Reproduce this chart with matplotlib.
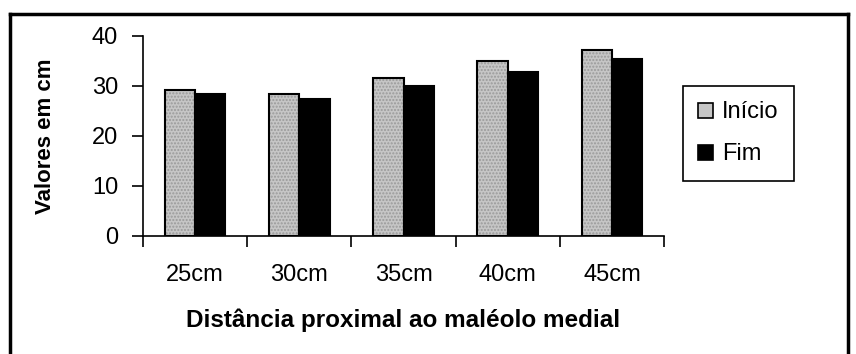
import matplotlib.pyplot as plt
import numpy as np
from matplotlib.patches import Rectangle
from matplotlib.lines import Line2D

plt.rcParams['font.family'] = ['Liberation Sans', 'DejaVu Sans']

categorias = ['25cm', '30cm', '35cm', '40cm', '45cm']
inicio = [29.3, 28.4, 31.7, 35.1, 37.2]
fim = [28.5, 27.5, 30.1, 32.8, 35.5]
y_ticks = [0, 10, 20, 30, 40]

fig = plt.figure(figsize=(8.56, 3.54), dpi=100)
ax = fig.add_axes([143/856, 1 - 236/354, (664 - 143)/856, 200/354])

x = np.arange(len(categorias))
w = 0.29
# Início: gray textured bars, drawn as fill + hatch, then outline
ax.bar(x - w/2, inicio, w, color='#c6c6c6', edgecolor='#9a9a9a', hatch='.....', linewidth=0)
ax.bar(x - w/2, inicio, w, fill=False, edgecolor='black', linewidth=1.5)
ax.bar(x + w/2, fim, w, color='black', edgecolor='black', linewidth=1.5)

ax.set_xlim(-0.5, len(categorias) - 0.5)
ax.set_ylim(0, 40)
ax.set_yticks(y_ticks)
ax.tick_params(axis='y', direction='out', length=8, width=1.2, labelsize=17, pad=10)

# tick marks at category boundaries, labels at category centres
ax.set_xticks(np.arange(-0.5, len(categorias), 1.0))
ax.set_xticklabels([])
ax.tick_params(axis='x', which='major', direction='out', length=8, width=1.2)
ax.set_xticks(x, minor=True)
ax.set_xticklabels(categorias, minor=True, fontsize=17)
ax.tick_params(axis='x', which='minor', length=0, pad=20)

for s in ['top', 'right']:
    ax.spines[s].set_visible(False)
for s in ['left', 'bottom']:
    ax.spines[s].set_linewidth(1.2)

ax.set_xlabel('Distância proximal ao maléolo medial', fontsize=17.5, fontweight='bold', labelpad=16)
ax.set_ylabel('Valores em cm', fontsize=16, fontweight='bold', labelpad=26)

handles = [Rectangle((0, 0), 1, 1, facecolor='#c6c6c6', edgecolor='black', linewidth=1.2),
           Rectangle((0, 0), 1, 1, facecolor='black', edgecolor='black', linewidth=1.2)]
leg = fig.legend(handles, ['Início', 'Fim'], loc='upper left',
                 bbox_to_anchor=(683/856, 1 - 86/354), fontsize=17, borderaxespad=0,
                 handlelength=0.6, handleheight=0.6, handletextpad=0.4,
                 labelspacing=0.85, borderpad=0.65, fancybox=False, framealpha=1)
leg.get_frame().set_edgecolor('black')
leg.get_frame().set_linewidth(1.2)

# outer frame around the chart (bottom edge is cut off in the original)
for xs, ys in [([10/856, 10/856], [0, 1 - 14/354]),
               ([10/856, 848/856], [1 - 14/354, 1 - 14/354]),
               ([848/856, 848/856], [0, 1 - 14/354])]:
    fig.add_artist(Line2D(xs, ys, color='black', linewidth=2.5, transform=fig.transFigure))

fig.savefig('out.png', dpi=100)
